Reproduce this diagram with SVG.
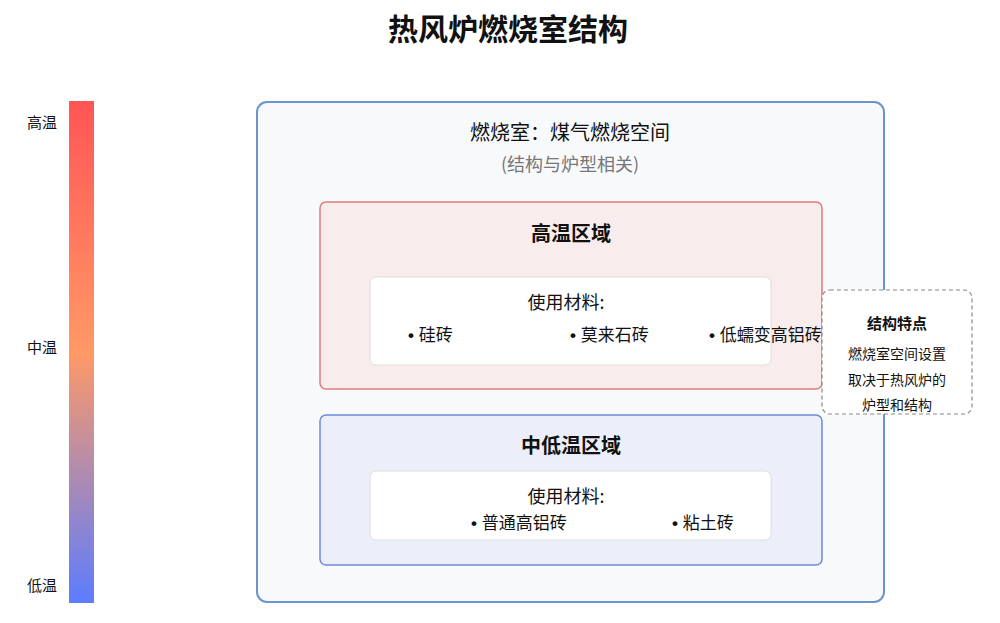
<svg xmlns="http://www.w3.org/2000/svg" width="1000" height="623" viewBox="0 0 1000 623">
<defs>
<linearGradient id="temp" x1="0" y1="0" x2="0" y2="1">
<stop offset="0" stop-color="#ff5555"/>
<stop offset="0.5" stop-color="#ff9966"/>
<stop offset="1" stop-color="#5c7cff"/>
</linearGradient>
<style>
text{font-family:"Noto Sans CJK SC","Noto Sans",sans-serif;fill:#111;}
.c{text-anchor:middle;}
.lbl{font-size:15px;text-anchor:end;}
.b{font-weight:bold;}
.inner{fill:#ffffff;stroke:#dddddd;stroke-width:1;}
.item{font-size:17px;white-space:pre;}
.dot{font-family:"Liberation Sans",sans-serif;font-weight:bold;}
</style>
</defs>
<rect width="1000" height="623" fill="#ffffff"/>
<text x="508" y="40" class="c b" font-size="30">热风炉燃烧室结构</text>
<g id="scale">
<rect x="69" y="101" width="25" height="502" fill="url(#temp)"/>
<text x="57" y="128" class="lbl">高温</text>
<text x="57" y="353" class="lbl">中温</text>
<text x="57" y="591" class="lbl">低温</text>
</g>
<g id="chamber">
<rect x="257" y="102" width="627" height="500" rx="10" fill="#f7f9fb" stroke="#6a95cf" stroke-width="2"/>
<text x="570" y="140" class="c" font-size="20">燃烧室：煤气燃烧空间</text>
<text x="570" y="171" class="c" font-size="18" style="fill:#777">(结构与炉型相关)</text>
</g>
<g id="high">
<rect x="320" y="202" width="502" height="187" rx="6" fill="#f9ecec" stroke="#e07b7b" stroke-width="1.5"/>
<text x="571" y="241" class="c b" font-size="20">高温区域</text>
<rect x="370" y="277" width="401" height="88" rx="6" class="inner"/>
<text x="566" y="309" class="c" font-size="18">使用材料:</text>
<text x="408" y="341" class="item"><tspan class="dot">• </tspan>硅砖</text>
<text x="570" y="341" class="item"><tspan class="dot">• </tspan>莫来石砖</text>
<text x="709" y="341" class="item"><tspan class="dot">• </tspan>低蠕变高铝砖</text>
</g>
<g id="low">
<rect x="320" y="415" width="502" height="150" rx="6" fill="#eceff9" stroke="#6f8bd8" stroke-width="1.5"/>
<text x="571" y="453" class="c b" font-size="20">中低温区域</text>
<rect x="370" y="471" width="401" height="69" rx="6" class="inner"/>
<text x="566" y="503" class="c" font-size="18">使用材料:</text>
<text x="471" y="529" class="item"><tspan class="dot">• </tspan>普通高铝砖</text>
<text x="672" y="529" class="item"><tspan class="dot">• </tspan>粘土砖</text>
</g>
<g id="feature">
<rect x="822" y="290" width="150" height="124" rx="8" fill="#ffffff" stroke="#888888" stroke-width="1.2" stroke-dasharray="4,3"/>
<text x="897" y="329" class="c b" font-size="15">结构特点</text>
<text x="897" y="359" class="c" font-size="14">燃烧室空间设置</text>
<text x="897" y="385" class="c" font-size="14">取决于热风炉的</text>
<text x="897" y="410" class="c" font-size="14">炉型和结构</text>
</g>
<g id="connectors"></g>
</svg>
